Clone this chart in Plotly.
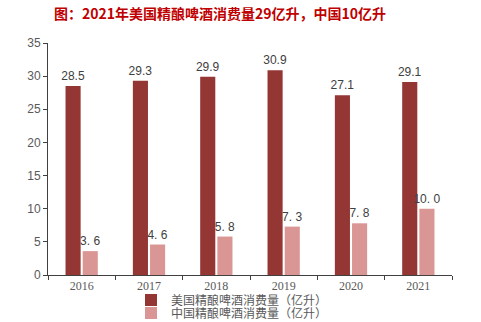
import plotly.graph_objects as go

years = ["2016", "2017", "2018", "2019", "2020", "2021"]
us_values = [28.5, 29.3, 29.9, 30.9, 27.1, 29.1]
cn_values = [3.6, 4.6, 5.8, 7.3, 7.8, 10.0]
us_name = "美国精酿啤酒消费量（亿升）"
cn_name = "中国精酿啤酒消费量（亿升）"
title_text = "图：2021年美国精酿啤酒消费量29亿升，中国10亿升"
y_ticks = [0, 5, 10, 15, 20, 25, 30, 35]

us_labels = [f"{v:.1f}" for v in us_values]
cn_labels = [f"{v:.1f}".replace(".", ". ") for v in cn_values]

fig = go.Figure()
fig.add_trace(go.Bar(
    x=years, y=us_values, name=us_name, legend="legend",
    marker=dict(color="#943634", line=dict(width=0)),
    text=us_labels, textposition="outside", constraintext="none",
    textfont=dict(family="Arial, Liberation Sans", size=12, color="#404040"),
    cliponaxis=False,
))
fig.add_trace(go.Bar(
    x=years, y=cn_values, name=cn_name, legend="legend2",
    marker=dict(color="#D99694", line=dict(width=0)),
    text=cn_labels, textposition="outside", constraintext="none",
    textfont=dict(family="Liberation Sans", size=12, color="#404040"),
    cliponaxis=False,
))

leg_common = dict(orientation="v", x=131/481, xanchor="left", xref="container",
                  yanchor="middle", yref="container",
                  font=dict(family="Noto Sans CJK SC", size=12, color="#595959"),
                  itemwidth=30, bgcolor="rgba(0,0,0,0)")

fig.update_layout(
    width=481, height=322,
    margin=dict(l=48, r=29, t=43, b=47, autoexpand=False),
    paper_bgcolor="white", plot_bgcolor="white",
    barmode="group", bargap=0.49, bargroupgap=0.12,
    title=dict(text=f"<b>{title_text}</b>", x=54/481, xanchor="left",
               y=1 - 14/322, yanchor="middle",
               font=dict(family="Noto Sans CJK SC", size=14, color="#C00000")),
    showlegend=True,
    legend=dict(y=1 - 300/322, **leg_common),
    legend2=dict(y=1 - 313/322, **leg_common),
)
fig.update_xaxes(
    type="category", showline=True, linecolor="#404040", linewidth=1,
    ticks="outside", tickson="boundaries", ticklen=4, tickcolor="#404040",
    tickfont=dict(family="Liberation Serif", size=12, color="#595959"),
    showgrid=False, automargin=False,
)
fig.update_yaxes(
    range=[0, 35], tickvals=y_ticks, showline=True, linecolor="#404040", linewidth=1,
    ticks="outside", ticklen=4, tickcolor="#404040",
    tickfont=dict(family="Arial, Liberation Sans", size=12, color="#595959"),
    showgrid=False, zeroline=False, automargin=False,
)

fig.write_html("out.html")
